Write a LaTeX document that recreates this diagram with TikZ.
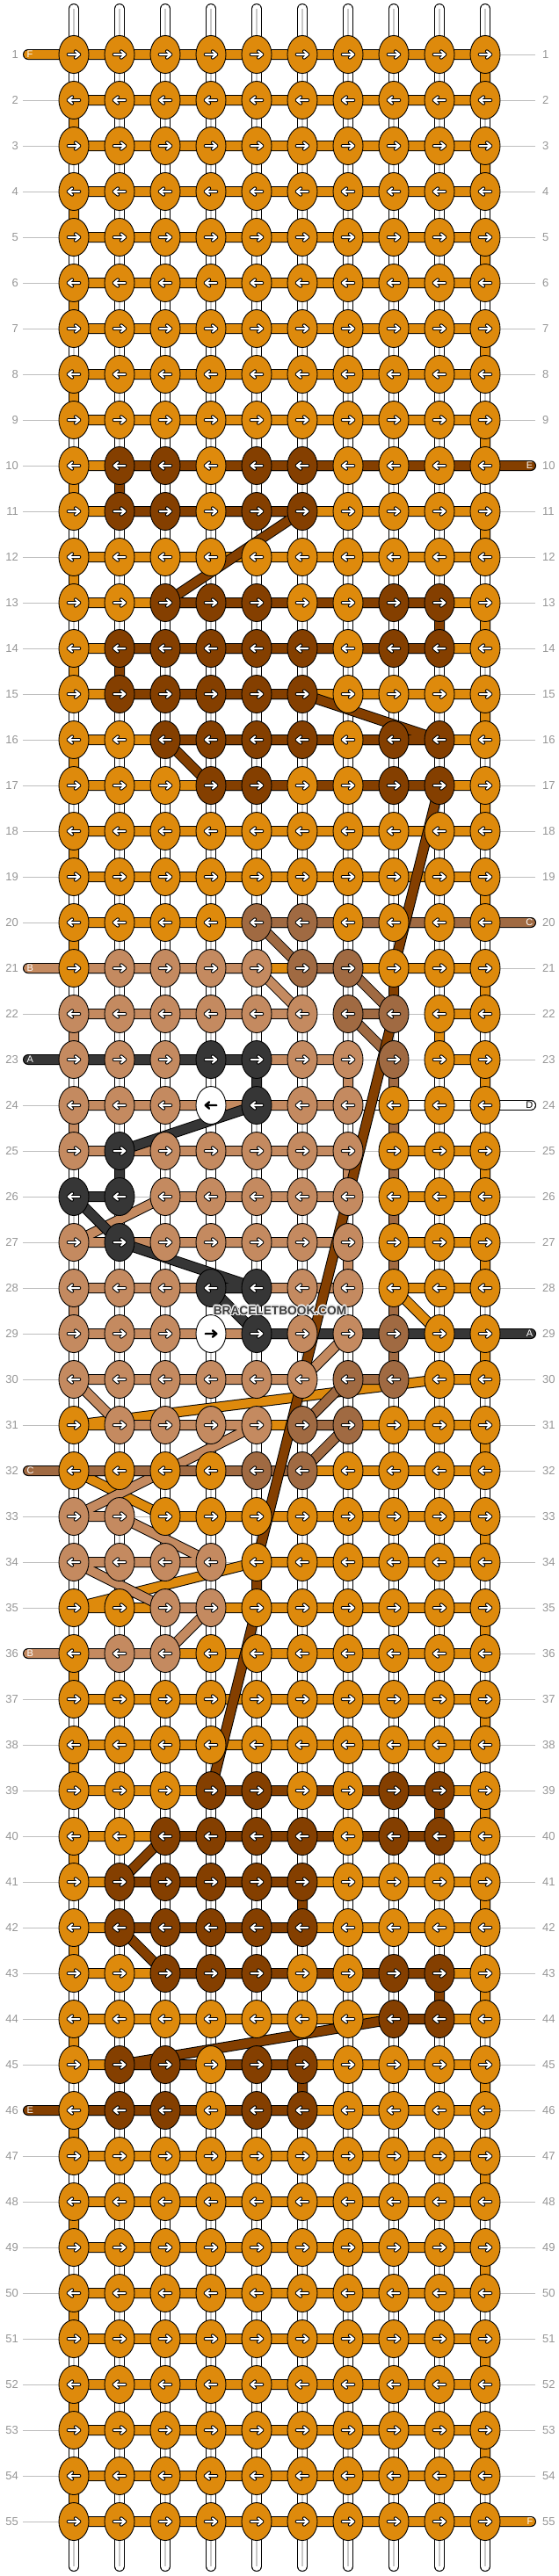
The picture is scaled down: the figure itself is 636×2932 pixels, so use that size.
\documentclass[tikz,border=0pt]{standalone}
\usepackage{fontspec}
\setmainfont{Liberation Sans}
\definecolor{colF}{RGB}{222,138,12}
\definecolor{colE}{RGB}{132,63,0}
\definecolor{colC}{RGB}{160,106,66}
\definecolor{colB}{RGB}{196,138,96}
\definecolor{colA}{RGB}{54,54,54}
\definecolor{colD}{RGB}{255,255,255}
\definecolor{guidegrey}{RGB}{190,190,190}
\definecolor{numgrey}{RGB}{150,150,150}
\definecolor{tubegrey}{RGB}{200,200,200}
\definecolor{wmdark}{RGB}{60,60,60}
\definecolor{wmhalo}{RGB}{235,235,235}
\tikzset{
  thr/.style={draw=black, line width=1pt, double=#1, double distance=10pt, line cap=round, line join=round},
  guide/.style={draw=guidegrey, line width=1pt},
  tubeline/.style={draw=tubegrey, line width=1.2pt},
  numlab/.style={text=numgrey, inner sep=0pt, font=\fontsize{13}{15}\selectfont},
  stublab/.style={inner sep=0pt, font=\fontsize{11}{13}\selectfont},
  arw/.style={line cap=round, line join=round},
  arwoF/.style={draw=black, line width=4pt}, arwiF/.style={draw=white, line width=2pt},
  arwoE/.style={draw=black, line width=4pt}, arwiE/.style={draw=white, line width=2pt},
  arwoC/.style={draw=black, line width=4pt}, arwiC/.style={draw=white, line width=2pt},
  arwoB/.style={draw=black, line width=4pt}, arwiB/.style={draw=white, line width=2pt},
  arwoA/.style={draw=black, line width=4pt}, arwiA/.style={draw=white, line width=2pt},
  arwoD/.style={draw=none}, arwiD/.style={draw=black, line width=2.4pt},
  knotshape/.style={draw=black, line width=0.9pt},
  wm/.style={inner sep=0pt, font=\bfseries\fontsize{13.7}{16}\selectfont}
}
\newcommand\knot[3]{%
  \fill[fill=col#3, knotshape] (k#1-#2) ellipse [x radius=17, y radius=21.5];
  \ifodd#1\relax
    \draw[arw, arwo#3, shift={(k#1-#2)}] (-6.3,0) -- (6.3,0) (1.9,-3.7) -- (6.3,0) -- (1.9,3.7);
    \draw[arw, arwi#3, shift={(k#1-#2)}] (-6.3,0) -- (6.3,0) (1.9,-3.7) -- (6.3,0) -- (1.9,3.7);
  \else
    \draw[arw, arwo#3, shift={(k#1-#2)}] (6.3,0) -- (-6.3,0) (-1.9,-3.7) -- (-6.3,0) -- (-1.9,3.7);
    \draw[arw, arwi#3, shift={(k#1-#2)}] (6.3,0) -- (-6.3,0) (-1.9,-3.7) -- (-6.3,0) -- (-1.9,3.7);
  \fi}
\newcommand\krow[2]{\foreach \cl [count=\c] in {#2} {\edef\tmp{\noexpand\knot{#1}{\c}{\cl}}\tmp}}
\begin{document}
\begin{tikzpicture}[x=1pt,y=-1pt]
\fill[white] (0,0) rectangle (636,2932);
\useasboundingbox (0,0) rectangle (636,2932);
% coordinates, guide lines, row numbers
\foreach \r in {1,...,55}{
  \foreach \c in {1,...,10}{
    \coordinate (k\r-\c) at ({84+52*(\c-1)},{62+52*(\r-1)});
  }
  \coordinate (L\r) at (32,{62+52*(\r-1)});
  \coordinate (R\r) at (604,{62+52*(\r-1)});
  \coordinate (GL\r) at (26,{62+52*(\r-1)});
  \coordinate (GR\r) at (609,{62+52*(\r-1)});
  \draw[guide] (GL\r) -- (GR\r);
  \node[numlab, anchor=east] (nl\r) at (21,{62+52*(\r-1)}) {\r};
  \node[numlab, anchor=west] (nr\r) at (617,{62+52*(\r-1)}) {\r};
}
% base strings
\foreach \c in {1,...,10}{
  \coordinate (T\c) at ({84+52*(\c-1)},10);
  \coordinate (B\c) at ({84+52*(\c-1)},2921);
  \draw[thr=white] (T\c) -- (B\c);
  \draw[tubeline] (T\c) -- (B\c);
}
% thread F
\draw[thr=colF] (L1) -- (k1-10) -- (k2-10) -- (k2-1) -- (k3-1) -- (k3-10) -- (k4-10) -- (k4-1) -- (k5-1) -- (k5-10) -- (k6-10) -- (k6-1) -- (k7-1) -- (k7-10) -- (k8-10) -- (k8-1) -- (k9-1) -- (k9-10) -- (k10-10) -- (k10-1) -- (k11-1) -- (k11-10) -- (k12-10) -- (k12-1) -- (k13-1) -- (k13-10) -- (k14-10) -- (k14-1) -- (k15-1) -- (k15-10) -- (k16-10) -- (k16-1) -- (k17-1) -- (k17-10) -- (k18-10) -- (k18-1) -- (k19-1) -- (k19-10) -- (k20-10) -- (k20-1) -- (k21-1) -- (k21-10) -- (k22-10) -- (k22-9) -- (k23-9) -- (k23-10) -- (k24-10) -- (k24-8) -- (k25-8) -- (k25-10) -- (k26-10) -- (k26-8) -- (k27-8) -- (k27-10) -- (k28-10) -- (k28-8) -- (k29-9) -- (k29-10) -- (k30-10) -- (k30-9) -- (k31-1) -- (k31-10) -- (k32-10) -- (k32-1) -- (k33-3) -- (k33-10) -- (k34-10) -- (k34-5) -- (k35-1) -- (k35-10) -- (k36-10) -- (k36-1) -- (k37-1) -- (k37-10) -- (k38-10) -- (k38-1) -- (k39-1) -- (k39-10) -- (k40-10) -- (k40-1) -- (k41-1) -- (k41-10) -- (k42-10) -- (k42-1) -- (k43-1) -- (k43-10) -- (k44-10) -- (k44-1) -- (k45-1) -- (k45-10) -- (k46-10) -- (k46-1) -- (k47-1) -- (k47-10) -- (k48-10) -- (k48-1) -- (k49-1) -- (k49-10) -- (k50-10) -- (k50-1) -- (k51-1) -- (k51-10) -- (k52-10) -- (k52-1) -- (k53-1) -- (k53-10) -- (k54-10) -- (k54-1) -- (k55-1) -- (R55);
% thread D
\draw[thr=white] (R24) -- (k24-4) -- (k29-4);
% thread B
\draw[thr=colB] (L21) -- (k21-5) -- (k22-6) -- (k22-1) -- (k23-1) -- (k23-7) -- (k24-7) -- (k24-1) -- (k25-1) -- (k25-7) -- (k26-7) -- (k26-3) -- (k27-1) -- (k27-7) -- (k28-7) -- (k28-1) -- (k29-1) -- (k29-7) -- (k30-6) -- (k30-1) -- (k31-2) -- (k31-5) -- (k33-1) -- (k33-2) -- (k34-4) -- (k34-1) -- (k35-3) -- (k35-4) -- (k36-3) -- (L36);
% thread C
\draw[thr=colC] (R20) -- (k20-5) -- (k21-6) -- (k21-7) -- (k22-8) -- (k22-7) -- (k23-8) -- (k29-8) -- (k30-8) -- (k30-7) -- (k31-6) -- (k31-7) -- (k32-6) -- (L32);
% thread A
\draw[thr=colA] (L23) -- (k23-5) -- (k24-5) -- (k25-2) -- (k26-2) -- (k26-1) -- (k27-2) -- (k28-5) -- (k28-4) -- (k29-5) -- (R29);
% thread E
\draw[thr=colE] (R10) -- (k10-2) -- (k11-2) -- (k11-6) -- (k13-3) -- (k13-9) -- (k14-9) -- (k14-2) -- (k15-2) -- (k15-6) -- (k16-9) -- (k16-3) -- (k17-4) -- (k17-9) -- (k21-8) -- (k22-8) -- (k34-5) -- (k35-5) -- (k39-4) -- (k39-9) -- (k40-9) -- (k40-3) -- (k41-2) -- (k41-6) -- (k42-6) -- (k42-2) -- (k43-3) -- (k43-9) -- (k44-9) -- (k44-8) -- (k45-2) -- (k45-6) -- (k46-6) -- (L46);
% knots
\foreach \r in {1,...,9,12,18,19,37,38,47,48,49,50,51,52,53,54,55}{\krow{\r}{F,F,F,F,F,F,F,F,F,F}}
\krow{10}{F,E,E,F,E,E,F,F,F,F}
\krow{11}{F,E,E,F,E,E,F,F,F,F}
\krow{13}{F,F,E,E,E,F,F,E,E,F}
\krow{14}{F,E,E,E,E,E,F,E,E,F}
\krow{15}{F,E,E,E,E,E,F,F,F,F}
\krow{16}{F,F,E,E,E,E,F,E,E,F}
\krow{17}{F,F,F,E,E,F,F,E,E,F}
\krow{20}{F,F,F,F,C,C,F,F,F,F}
\krow{21}{F,B,B,B,B,C,C,F,F,F}
\krow{22}{B,B,B,B,B,B,C,C,F,F}
\krow{23}{B,B,B,A,A,B,B,C,F,F}
\krow{24}{B,B,B,D,A,B,B,F,F,F}
\krow{25}{B,A,B,B,B,B,B,F,F,F}
\krow{26}{A,A,B,B,B,B,B,F,F,F}
\krow{27}{B,A,B,B,B,B,B,F,F,F}
\krow{28}{B,B,B,A,A,B,B,F,F,F}
\krow{29}{B,B,B,D,A,B,B,C,F,F}
\krow{30}{B,B,B,B,B,B,C,C,F,F}
\krow{31}{F,B,B,B,B,C,C,F,F,F}
\krow{32}{F,F,F,F,C,C,F,F,F,F}
\krow{33}{B,B,F,F,F,F,F,F,F,F}
\krow{34}{B,B,B,B,F,F,F,F,F,F}
\krow{35}{F,F,B,B,F,F,F,F,F,F}
\krow{36}{F,B,B,F,F,F,F,F,F,F}
\krow{39}{F,F,F,E,E,F,F,E,E,F}
\krow{40}{F,F,E,E,E,E,F,E,E,F}
\krow{41}{F,E,E,E,E,E,F,F,F,F}
\krow{42}{F,E,E,E,E,E,F,F,F,F}
\krow{43}{F,F,E,E,E,F,F,E,E,F}
\krow{44}{F,F,F,F,F,F,F,E,E,F}
\krow{45}{F,E,E,F,E,E,F,F,F,F}
\krow{46}{F,E,E,F,E,E,F,F,F,F}
% stub labels
\node[stublab, text=white, anchor=west, xshift=-1.5pt] (sF1) at (L1) {F};
\node[stublab, text=white, anchor=east, xshift=2.5pt] (sE10) at (R10) {E};
\node[stublab, text=white, anchor=east, xshift=2.5pt] (sC20) at (R20) {C};
\node[stublab, text=white, anchor=west, xshift=-1.5pt] (sB21) at (L21) {B};
\node[stublab, text=white, anchor=west, xshift=-1.5pt] (sA23) at (L23) {A};
\node[stublab, text=black, anchor=east, xshift=2.5pt] (sD24) at (R24) {D};
\node[stublab, text=white, anchor=east, xshift=2.5pt] (sA29) at (R29) {A};
\node[stublab, text=white, anchor=west, xshift=-1.5pt] (sC32) at (L32) {C};
\node[stublab, text=white, anchor=west, xshift=-1.5pt] (sB36) at (L36) {B};
\node[stublab, text=white, anchor=west, xshift=-1.5pt] (sE46) at (L46) {E};
\node[stublab, text=white, anchor=east, xshift=2.5pt] (sF55) at (R55) {F};
% watermark
\coordinate (wmc) at (318.5,1491.5);
\foreach \dx/\dy [count=\i] in {-1.4/0,1.4/0,0/-1.4,0/1.4,-1/-1,1/1,-1/1,1/-1}{
  \node[wm, text=wmhalo, xshift=\dx pt, yshift=\dy pt] (wmh\i) at (wmc) {BRACELETBOOK.COM};
}
\node[wm, text=wmdark] (wmtext) at (wmc) {BRACELETBOOK.COM};
\end{tikzpicture}
\end{document}
